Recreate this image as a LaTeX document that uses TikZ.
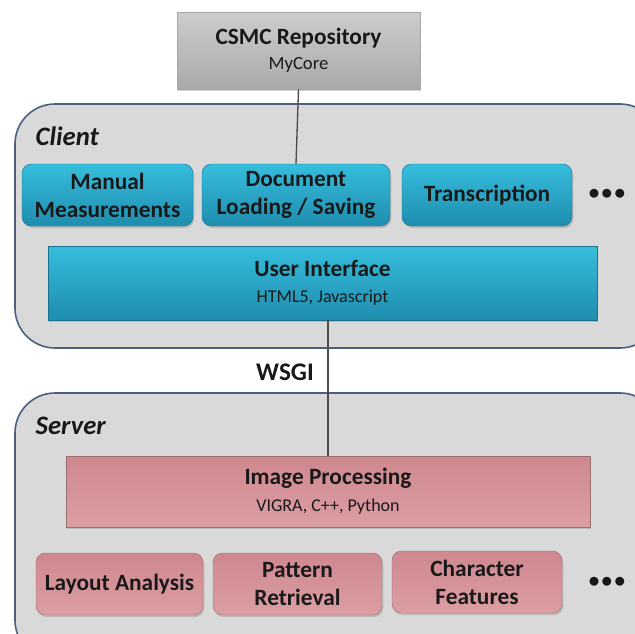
\documentclass[tikz,border=0pt]{standalone}
\usepackage{fontspec}
\setmainfont{Carlito}
\usetikzlibrary{shadows}
\definecolor{frame}{HTML}{4A607E}
\definecolor{panel}{HTML}{D9D9D9}
\definecolor{bluetop}{HTML}{36BDDD}
\definecolor{bluebot}{HTML}{1F8DAE}
\definecolor{pinktop}{HTML}{E5979E}
\definecolor{pinkbot}{HTML}{DB9EA3}
\definecolor{graytop}{HTML}{CDCDCD}
\definecolor{graybot}{HTML}{A9A9A9}
\newcommand\subtxt{\mdseries\fontsize{13.5}{15}\selectfont}
\tikzset{
  container/.style={draw=frame, line width=1.2pt, fill=panel, rounded corners=30pt},
  bluebox/.style={rounded corners=7pt, top color=bluetop, bottom color=bluebot, draw=bluebot!80!black, line width=0.3pt,
    drop shadow={shadow xshift=1pt, shadow yshift=-1.5pt, opacity=0.35}, align=center, font=\bfseries\fontsize{17.5}{21}\selectfont, text=black!90},
  pinkbox/.style={rounded corners=7pt, top color=pinktop!90!black, bottom color=pinkbot, draw=pinkbot!70!black, line width=0.3pt,
    drop shadow={shadow xshift=1pt, shadow yshift=-1.5pt, opacity=0.35}, align=center, font=\bfseries\fontsize{17.5}{21}\selectfont, text=black!90},
  conn/.style={draw=black!70, line width=1pt},
  title/.style={font=\bfseries\itshape\fontsize{20}{22}\selectfont, anchor=west, text=black!90},
  dots/.style={font=\bfseries\fontsize{19}{19}\selectfont, text=black!90}
}
\begin{document}
\begin{tikzpicture}[x=0.75pt,y=-0.75pt]
\useasboundingbox (0,0) rectangle (635,633);
\fill[white] (0,0) rectangle (635,633);
% containers
\draw[container] (15,104) rectangle (660,348);
\draw[container] (15,393) rectangle (660,660);
\node[title] (client) at (31,136) {Client};
\node[title] (server) at (31,426) {Server};
% repository
\node[top color=graytop, bottom color=graybot, draw=black!35, line width=0.3pt,
  drop shadow={shadow xshift=1pt, shadow yshift=-1.5pt, opacity=0.35}, text=black!90,
  minimum width=243*0.75pt, minimum height=77*0.75pt, align=center, inner sep=0pt] (repo) at (298.5,50.5)
  {{\bfseries\fontsize{17.5}{20}\selectfont CSMC Repository}\\[7pt]{\fontsize{14}{16}\selectfont MyCore}};
% blue boxes
\node[bluebox, minimum width=171*0.75pt, minimum height=62*0.75pt, inner sep=0pt] (manual) at (107.5,195) {Manual\\Measurements};
\node[bluebox, minimum width=188*0.75pt, minimum height=62*0.75pt, inner sep=0pt] (doc) at (296,195) {Document\\Loading / Saving};
\node[bluebox, minimum width=170*0.75pt, minimum height=62*0.75pt, inner sep=0pt] (trans) at (487,195) {Transcription};
\node[dots] (cdots) at (607,194) {$\bullet\!\bullet\!\bullet$};
\node[bluebox, rounded corners=0pt, minimum width=549*0.75pt, minimum height=74*0.75pt, inner sep=0pt] (ui) at (322.5,283)
  {User Interface\\[-2pt]{\subtxt HTML5, Javascript}};
% pink boxes
\node[pinkbox, rounded corners=0pt, minimum width=524*0.75pt, minimum height=71*0.75pt, inner sep=0pt] (ip) at (328,491.5)
  {Image Processing\\[-1pt]{\subtxt VIGRA, C++, Python}};
\node[pinkbox, minimum width=167*0.75pt, minimum height=62*0.75pt, inner sep=0pt] (layout) at (119.5,584) {Layout Analysis};
\node[pinkbox, minimum width=169*0.75pt, minimum height=62*0.75pt, inner sep=0pt] (pattern) at (297.5,584) {Pattern\\Retrieval};
\node[pinkbox, minimum width=170*0.75pt, minimum height=62*0.75pt, inner sep=0pt] (charf) at (477,582) {Character\\Features};
\node[dots] (sdots) at (607,582) {$\bullet\!\bullet\!\bullet$};
% connectors
\draw[conn] (repo.south) -- (doc.north);
\draw[conn] ([xshift=4.125pt]ui.south) -- (ip.north);
\node[font=\bfseries\fontsize{19}{21}\selectfont, text=black!90] (wsgi) at (285,372) {WSGI};
\end{tikzpicture}
\end{document}
